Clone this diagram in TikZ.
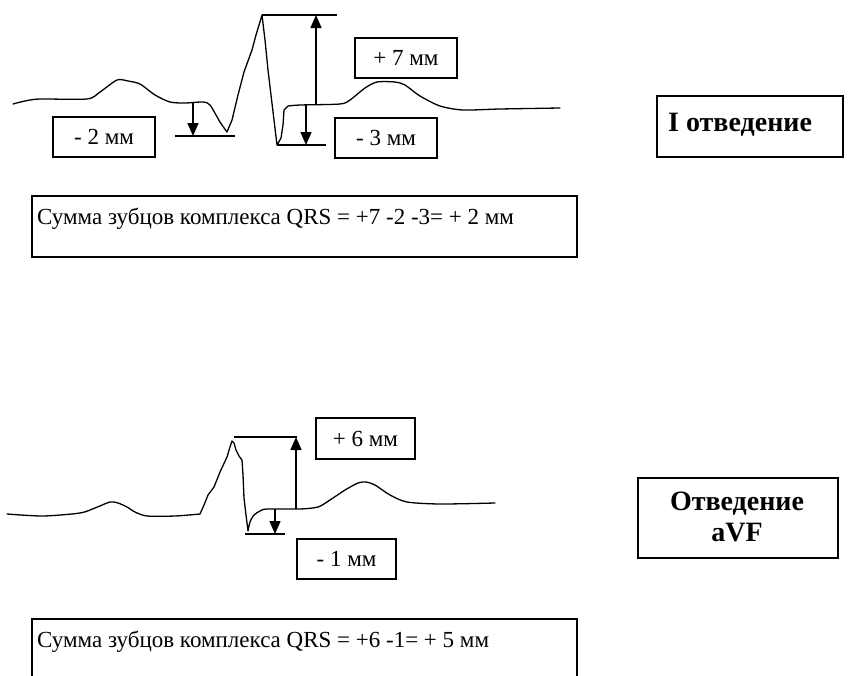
\documentclass[tikz,border=0pt]{standalone}
\usepackage{fontspec}
\setmainfont{Liberation Serif}
\usetikzlibrary{arrows.meta}
\begin{document}
\begin{tikzpicture}[x=1pt,y=-1pt,
  ecg/.style={line width=1.3pt, line join=round, line cap=round},
  refline/.style={line width=1.3pt},
  measure/.style={line width=1.5pt, -{Triangle[length=13pt,width=11pt]}},
  lbl/.style={draw, line width=1.4pt, font=\fontsize{23}{26}\selectfont, minimum width=102pt, minimum height=40pt, inner sep=0pt},
  sumbox/.style={draw, line width=1.4pt, minimum width=545pt, minimum height=61pt, inner sep=0pt},
  sumtext/.style={anchor=west, font=\fontsize{23}{26}\selectfont, inner sep=0pt},
  leadbox/.style={draw, line width=1.8pt, inner sep=0pt},
  leadtext/.style={font=\fontsize{28}{31}\selectfont\bfseries, inner sep=0pt, align=center}]
\clip (0,0) rectangle (848,675);
\fill[white] (0,0) rectangle (848,675);

% ---------- top ECG (lead I) ----------
\draw[ecg] plot[smooth, tension=0.45] coordinates {(13,104) (25,101) (40,99) (87,99) (100,92) (117,80) (128,81) (140,84) (155,95) (170,102) (185,103) (203,102) (210,105) (220,122) (227,132)}
  -- (232,120) -- (238,95) -- (244,72) -- (252,50) -- (256,35) -- (262,15)
  -- (265,40) -- (268,70) -- (271,95) -- (274,120) -- (277,145)
  -- (281,138) -- (283,125) -- (284,110) -- (288,106)
  plot[smooth, tension=0.45] coordinates {(288,106) (300,105) (340,104) (350,100) (365,88) (377,82) (395,82) (405,85) (420,96) (440,106) (463,110) (500,109) (560,108)};

\coordinate (Rtop) at (262,15);
\coordinate (Rend) at (337,15);
\coordinate (Sbot) at (277,145);
\coordinate (Send) at (326,145);
\coordinate (Qa) at (175,136);
\coordinate (Qb) at (235,136);
\draw[refline] (Rtop) -- (Rend);
\draw[refline] (Sbot) -- (Send);
\draw[refline] (Qa) -- (Qb);
\coordinate (Rfrom) at (316,105);
\coordinate (Rto) at (316,15);
\coordinate (Sfrom) at (306,105);
\coordinate (Sto) at (306,145);
\coordinate (Qfrom) at (193,103);
\coordinate (Qto) at (193,136);
\draw[measure] (Rfrom) -- (Rto);
\draw[measure] (Sfrom) -- (Sto);
\draw[measure] (Qfrom) -- (Qto);

\node[lbl] (q1) at (104,137) {- 2 мм};
\node[lbl] (r1) at (406,58) {+ 7 мм};
\node[lbl] (s1) at (386,138) {- 3 мм};

\node[leadbox, minimum width=186pt, minimum height=61pt] (lead1) at (750,126.5) {};
\node[leadtext, anchor=west] (lead1t) at (668,125) {I отведение};

\node[sumbox] (sum1) at (304.5,226.5) {};
\node[sumtext] (sum1t) at (37,219) {Сумма зубцов комплекса QRS = +7 -2 -3= + 2 мм};

% ---------- bottom ECG (lead aVF) ----------
\draw[ecg] plot[smooth, tension=0.45] coordinates {(7,514) (43,516) (80,513) (95,508) (110,502) (118,503) (127,507) (135,512) (147,516) (175,516) (200,514)}
  -- (204,505) -- (208,495) -- (214,487) -- (220,472) -- (227,457) -- (230,447) -- (232,441) -- (234,443) -- (236,450) -- (239,456) -- (242,460)
  -- (243,475) -- (244,498) -- (246,515) -- (248,531)
  plot[smooth, tension=0.45] coordinates {(248,531) (250,522) (254,515) (260,511) (267,509) (300,509) (318,507) (330,500) (345,490) (358,483) (366,482) (375,485) (390,495) (407,502) (440,504) (495,503)};

\coordinate (R2top) at (234,437);
\coordinate (R2end) at (297,437);
\coordinate (S2bot) at (245,534);
\coordinate (S2end) at (285,534);
\draw[refline] (R2top) -- (R2end);
\draw[refline] (S2bot) -- (S2end);
\coordinate (R2from) at (296,509);
\coordinate (R2to) at (296,437);
\coordinate (S2from) at (275,509);
\coordinate (S2to) at (275,534);
\draw[measure] (R2from) -- (R2to);
\draw[measure] (S2from) -- (S2to);

\node[lbl, minimum width=99pt, minimum height=41pt] (r2) at (365.5,438.5) {+ 6 мм};
\node[lbl, minimum width=99pt, minimum height=40pt] (s2) at (346.5,559) {- 1 мм};

\node[leadbox, minimum width=200pt, minimum height=80pt] (lead2) at (738,518) {};
\node[leadtext] (lead2t) at (737,517) {Отведение\\aVF};

\node[draw, line width=1.4pt, minimum width=545pt, minimum height=70pt, inner sep=0pt] (sum2) at (304.5,654) {};
\node[sumtext] (sum2t) at (37,642) {Сумма зубцов комплекса QRS = +6 -1= + 5 мм};
\end{tikzpicture}
\end{document}
